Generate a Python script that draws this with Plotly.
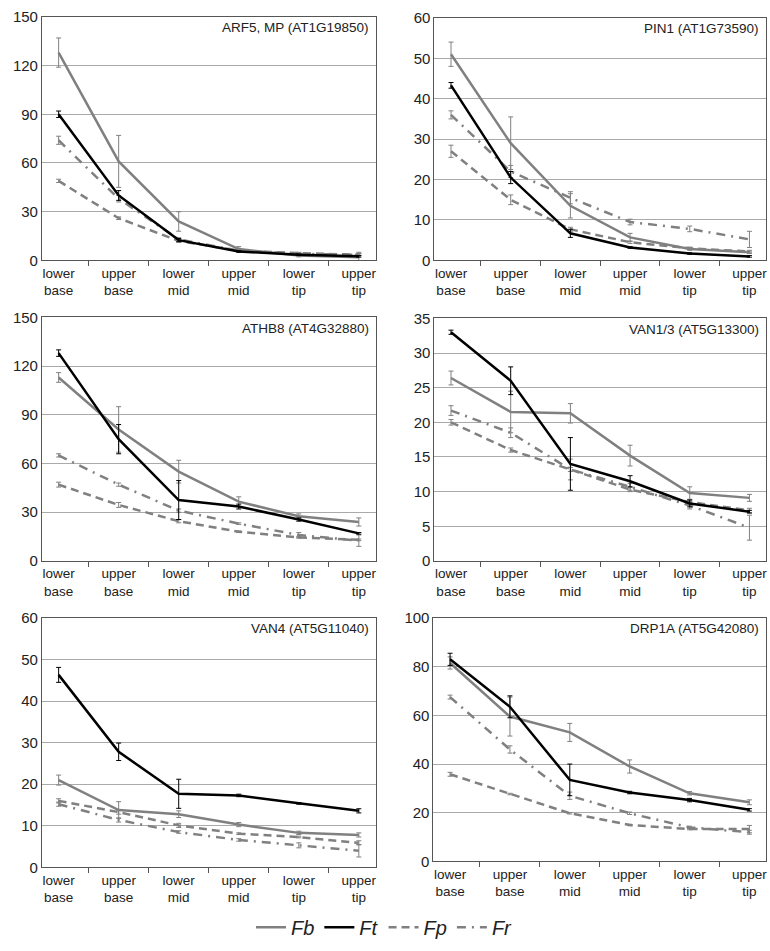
import plotly.graph_objects as go

tick_labels = ["lower<br>base", "upper<br>base", "lower<br>mid", "upper<br>mid", "lower<br>tip", "upper<br>tip"]
series_names = ["Fb", "Ft", "Fp", "Fr"]

titles = ["ARF5, MP (AT1G19850)", "PIN1 (AT1G73590)", "ATHB8 (AT4G32880)",
          "VAN1/3 (AT5G13300)", "VAN4 (AT5G11040)", "DRP1A (AT5G42080)"]
y_max = [150, 60, 150, 35, 60, 100]
y_dtick = [30, 10, 30, 5, 10, 20]

# ARF5
arf5_fb = [128, 61, 24, 7, 3, 2]
arf5_fb_err = [9, 16, 6, 1.5, 0.8, 3]
arf5_ft = [90, 40, 12.5, 5.5, 3.5, 2.5]
arf5_ft_err = [2, 3, 1, 0.5, 0.5, 0.5]
arf5_fp = [49, 26, 12, 6, 4.5, 3.5]
arf5_fp_err = [1, 0.8, 0.8, 0.5, 0.5, 0.5]
arf5_fr = [74, 38, 13, 6, 4, 3.5]
arf5_fr_err = [2.5, 2, 1, 0.5, 0.5, 0.8]

# PIN1
pin1_fb = [51, 29, 13.5, 5.7, 2.8, 2]
pin1_fb_err = [3, 6.5, 3, 1, 0.3, 0.3]
pin1_ft = [43.3, 20.5, 6.7, 3.2, 1.7, 1.0]
pin1_ft_err = [0.7, 1.5, 1, 0.2, 0.2, 0.2]
pin1_fp = [27, 15, 7.7, 4.5, 3, 2.2]
pin1_fp_err = [1.5, 1.2, 0.5, 0.3, 0.3, 0.3]
pin1_fr = [36, 22, 15.5, 9.5, 7.8, 5.2]
pin1_fr_err = [1, 1.5, 1.5, 0.7, 0.7, 2]

# ATHB8
athb8_fb = [113, 81, 55, 36.5, 27.5, 24]
athb8_fb_err = [3, 14, 7, 3, 1.5, 2.5]
athb8_ft = [128, 75, 37.5, 33.5, 25.5, 17]
athb8_ft_err = [2, 9, 12, 1.5, 1, 0.5]
athb8_fp = [47, 34.5, 24.5, 18, 14.5, 13]
athb8_fp_err = [1.5, 1.5, 1, 0.5, 0.5, 0.5]
athb8_fr = [65, 47, 31, 23, 16, 12.5]
athb8_fr_err = [1, 1, 1, 0.5, 1.5, 3.5]

# VAN1/3
van13_fb = [26.4, 21.5, 21.3, 15.2, 9.8, 9.1]
van13_fb_err = [1, 3, 1.4, 1.5, 0.9, 0.5]
van13_ft = [33, 26, 14, 11.5, 8.3, 7.1]
van13_ft_err = [0.3, 2, 3.8, 0.8, 0.5, 0.2]
van13_fp = [20, 16, 13.2, 10.3, 8.5, 7.3]
van13_fp_err = [0.4, 0.3, 0.3, 0.3, 0.3, 0.3]
van13_fr = [21.7, 18.5, 13.2, 10.7, 8.0, 4.8]
van13_fr_err = [0.7, 0.7, 1.5, 0.5, 0.5, 1.8]

# VAN4
van4_fb = [21, 13.8, 12.8, 10.3, 8.3, 7.8]
van4_fb_err = [1.2, 2, 0.8, 0.5, 0.4, 0.5]
van4_ft = [46.3, 27.8, 17.7, 17.3, 15.4, 13.6]
van4_ft_err = [1.8, 2.1, 3.5, 0.3, 0.2, 0.5]
van4_fp = [16, 13.3, 10.1, 8.1, 7.3, 5.9]
van4_fp_err = [0.5, 0.5, 0.5, 0.2, 0.2, 0.5]
van4_fr = [15.2, 11.4, 8.5, 6.6, 5.3, 4.0]
van4_fr_err = [0.5, 0.5, 0.3, 0.3, 0.6, 1.5]

# DRP1A
drp1a_fb = [81.5, 59.5, 53, 39, 28, 24.3]
drp1a_fb_err = [2.5, 8, 3.7, 2.7, 0.7, 1]
drp1a_ft = [83, 63.5, 33.5, 28.3, 25.2, 21.2]
drp1a_ft_err = [2.5, 4.5, 6.5, 0.5, 0.7, 0.5]
drp1a_fp = [35.8, 27.7, 19.8, 15, 13.3, 13.3]
drp1a_fp_err = [0.8, 0.3, 0.3, 0.3, 0.3, 1.5]
drp1a_fr = [67.5, 46, 27, 19.8, 14, 12]
drp1a_fr_err = [0.8, 1.5, 1.5, 0.5, 0.5, 0.8]

panels = [
    (arf5_fb, arf5_fb_err, arf5_ft, arf5_ft_err, arf5_fp, arf5_fp_err, arf5_fr, arf5_fr_err),
    (pin1_fb, pin1_fb_err, pin1_ft, pin1_ft_err, pin1_fp, pin1_fp_err, pin1_fr, pin1_fr_err),
    (athb8_fb, athb8_fb_err, athb8_ft, athb8_ft_err, athb8_fp, athb8_fp_err, athb8_fr, athb8_fr_err),
    (van13_fb, van13_fb_err, van13_ft, van13_ft_err, van13_fp, van13_fp_err, van13_fr, van13_fr_err),
    (van4_fb, van4_fb_err, van4_ft, van4_ft_err, van4_fp, van4_fp_err, van4_fr, van4_fr_err),
    (drp1a_fb, drp1a_fb_err, drp1a_ft, drp1a_ft_err, drp1a_fp, drp1a_fp_err, drp1a_fr, drp1a_fr_err),
]

W, H = 770, 951
# pixel boxes (left, right, top, bottom)
boxes = [
    (42, 376, 8, 256),
    (435, 767, 9, 256),
    (42, 376, 314, 562),
    (435, 767, 315, 562),
    (42, 376, 620, 874),
    (434, 767, 620, 868),
]

GRAY = "#808080"
styles = {
    "Fb": dict(color=GRAY, dash="solid"),
    "Ft": dict(color="#000000", dash="solid"),
    "Fp": dict(color=GRAY, dash="8px,5px"),
    "Fr": dict(color=GRAY, dash="9px,6px,2px,6px"),
}
rank = {"Fb": 1, "Ft": 2, "Fp": 3, "Fr": 4}

fig = go.Figure()
layout = {}
FONT = "Liberation Sans, Arial, sans-serif"

for i, (p, box) in enumerate(zip(panels, boxes)):
    n = i + 1
    xa = "x" if n == 1 else f"x{n}"
    ya = "y" if n == 1 else f"y{n}"
    fb, fbe, ft, fte, fp, fpe, fr, fre = p
    data = {"Fb": (fb, fbe), "Ft": (ft, fte), "Fp": (fp, fpe), "Fr": (fr, fre)}
    for name in ["Fp", "Fr", "Fb", "Ft"]:
        vals, errs = data[name]
        st = styles[name]
        fig.add_trace(go.Scatter(
            x=tick_labels, y=vals, mode="lines", name=name,
            line=dict(color=st["color"], width=2.5, dash=st["dash"]),
            error_y=dict(type="data", array=errs, visible=True,
                         color=st["color"], thickness=1, width=2.5),
            xaxis=xa, yaxis=ya, showlegend=(n == 1), legendrank=rank[name],
            hoverinfo="skip",
        ))
    l, r, t, b = box
    layout[f"xaxis{'' if n == 1 else n}"] = dict(
        domain=[l / W, r / W], anchor=ya, type="category",
        categoryorder="array", categoryarray=tick_labels,
        tickson="boundaries", ticks="outside", ticklen=5, tickcolor="#555",
        showline=True, linecolor="#555", linewidth=1, mirror=True,
        showgrid=False, tickfont=dict(size=13.5, color="#222", family=FONT),
        fixedrange=True,
    )
    layout[f"yaxis{'' if n == 1 else n}"] = dict(
        domain=[1 - b / H, 1 - t / H], anchor=xa,
        range=[0, y_max[i]], dtick=y_dtick[i], tick0=0,
        showline=True, linecolor="#555", linewidth=1, mirror=True,
        showgrid=True, gridcolor="#aaaaaa", gridwidth=1, zeroline=False,
        ticks="", tickfont=dict(size=15, color="#222", family=FONT),
        fixedrange=True,
    )
    fig.add_annotation(
        text=titles[i], xref=f"{xa} domain", yref=f"{ya} domain",
        x=0.985, y=0.995, xanchor="right", yanchor="top", showarrow=False,
        font=dict(size=13.5, color="#222", family=FONT),
    )

fig.update_layout(
    width=W, height=H,
    margin=dict(l=0, r=0, t=0, b=0),
    paper_bgcolor="white", plot_bgcolor="white",
    showlegend=True,
    legend=dict(orientation="h", x=0.5, xanchor="center", y=1 - 935 / H, yanchor="middle",
                font=dict(size=20, color="#222", family=FONT, style="italic"),
                itemwidth=30, tracegroupgap=0, traceorder="normal"),
    **layout,
)

fig.write_html(
    "out.html",
    config={"displayModeBar": False, "staticPlot": True},
    post_script="document.body.style.margin='0';document.body.style.padding='0';"
                "document.documentElement.style.overflow='hidden';",
)
